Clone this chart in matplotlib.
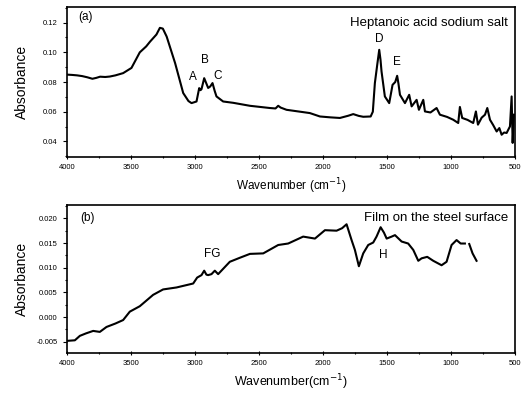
import numpy as np
import matplotlib
matplotlib.use("Agg")
import matplotlib.pyplot as plt
from matplotlib.ticker import MultipleLocator, FormatStrFormatter

plt.rcParams['font.family'] = ['Liberation Sans', 'DejaVu Sans']

# (a) Heptanoic acid sodium salt
wn_a = [4000, 3960, 3920, 3880, 3840, 3800, 3770, 3740, 3700, 3664, 3620, 3560, 3495,
        3430, 3380, 3350, 3300, 3273, 3250, 3220, 3154, 3091, 3050, 3026, 2987,
        2966, 2956, 2948, 2927, 2910, 2896, 2880, 2862, 2845, 2831, 2779, 2700,
        2570, 2414, 2370, 2349, 2330, 2284, 2102, 2023, 1940, 1867, 1802, 1763,
        1720, 1685, 1627, 1610, 1594, 1575, 1560, 1550, 1542, 1516, 1482, 1456,
        1435, 1420, 1410, 1398, 1359, 1326, 1307, 1268, 1250, 1216, 1203, 1160,
        1112, 1086, 1030, 982, 943, 930, 912, 870, 826, 805, 789, 760, 734, 716,
        695, 670, 643, 622, 604, 585, 565, 539, 526, 518, 508]
ab_a = [0.0850, 0.0848, 0.0845, 0.0840, 0.0832, 0.0822, 0.0828, 0.0836, 0.0834, 0.0837,
        0.0845, 0.0860, 0.0895, 0.1000, 0.1040, 0.1072, 0.1120, 0.1165, 0.1160, 0.1106,
        0.0927, 0.0726, 0.0672, 0.0658, 0.0669, 0.0759, 0.0745, 0.0752, 0.0826, 0.0790,
        0.0760, 0.0770, 0.0793, 0.0740, 0.0703, 0.0669, 0.0660, 0.0640, 0.0625, 0.0622,
        0.0640, 0.0628, 0.0613, 0.0591, 0.0568, 0.0562, 0.0558, 0.0573, 0.0584, 0.0572,
        0.0566, 0.0568, 0.0600, 0.0793, 0.0920, 0.1017, 0.0950, 0.0871, 0.0703, 0.0658,
        0.0781, 0.0800, 0.0842, 0.0790, 0.0714, 0.0658, 0.0714, 0.0636, 0.0680, 0.0613,
        0.0680, 0.0602, 0.0595, 0.0625, 0.0580, 0.0565, 0.0546, 0.0524, 0.0632, 0.0558,
        0.0545, 0.0524, 0.0602, 0.0513, 0.0560, 0.0580, 0.0625, 0.0546, 0.0510, 0.0467,
        0.0490, 0.0445, 0.0460, 0.0457, 0.0501, 0.0703, 0.0390, 0.0580]

# (b) Film on the steel surface (gap near 870 cm-1)
wn_b = [3990, 3937, 3898, 3850, 3794, 3742, 3690, 3620, 3560, 3508, 3430, 3326, 3248,
        3143, 3013, 2982, 2948, 2927, 2910, 2896, 2870, 2844, 2818, 2727, 2650, 2570,
        2466, 2349, 2271, 2154, 2062, 1984, 1893, 1850, 1815, 1776, 1750, 1719, 1685,
        1646, 1607, 1581, 1549, 1523, 1502, 1463, 1437, 1385, 1334, 1294, 1255, 1229,
        1185, 1138, 1073, 1034, 995, 956, 924, 891, 875, 857, 831, 800]
ab_b = [-0.0048, -0.0047, -0.0038, -0.0033, -0.0028, -0.0030, -0.0020, -0.0013, -0.0006,
        0.0011, 0.0022, 0.0045, 0.0056, 0.0060, 0.0068, 0.0080, 0.0085, 0.0094, 0.0086,
        0.0085, 0.0087, 0.0094, 0.0087, 0.0112, 0.0120, 0.0128, 0.0129, 0.0146, 0.0149,
        0.0163, 0.0159, 0.0176, 0.0175, 0.0180, 0.0188, 0.0156, 0.0136, 0.0103, 0.0129,
        0.0146, 0.0151, 0.0163, 0.0182, 0.0171, 0.0159, 0.0163, 0.0166, 0.0153, 0.0149,
        0.0136, 0.0114, 0.0119, 0.0122, 0.0114, 0.0105, 0.0112, 0.0146, 0.0156, 0.0149,
        0.0149, np.nan, 0.0148, 0.0129, 0.0114]

peaks_a = ['A', 'B', 'C', 'D', 'E']
peaks_a_x = [3016, 2922, 2820, 1562, 1422]
peaks_a_y = [0.0835, 0.0949, 0.0842, 0.109, 0.0935]
peaks_b = ['FG', 'H']
peaks_b_x = [2867, 1531]
peaks_b_y = [0.0128, 0.0126]

fig = plt.figure(figsize=(5.26, 3.95), dpi=100)
ax1 = fig.add_axes([0.127, 0.6025, 0.852, 0.380])
ax2 = fig.add_axes([0.127, 0.106, 0.852, 0.375])


def style(ax):
    ax.set_xlim(4000, 500)
    ax.xaxis.set_major_locator(MultipleLocator(500))
    ax.xaxis.set_minor_locator(MultipleLocator(250))
    ax.tick_params(which='both', direction='out', labelsize=5.5, width=0.8)
    ax.tick_params(which='major', length=3)
    ax.tick_params(which='minor', length=1.5)
    ax.tick_params(axis='x', which='both', direction='inout')
    for s in ax.spines.values():
        s.set_linewidth(1.2)
    ax.set_ylabel('Absorbance', fontsize=10)
    ax.yaxis.set_label_coords(-0.085, 0.5)


ax1.plot(wn_a, ab_a, color='black', lw=1.5)
style(ax1)
ax1.set_ylim(0.0295, 0.1306)
ax1.yaxis.set_major_locator(MultipleLocator(0.02))
ax1.yaxis.set_minor_locator(MultipleLocator(0.01))
ax1.yaxis.set_major_formatter(FormatStrFormatter('%.2f'))
ax1.set_xlabel('Wavenumber (cm$^{-1}$)', fontsize=8.5)
ax1.text(0.025, 0.93, '(a)', transform=ax1.transAxes, fontsize=8.5, va='center')
ax1.text(0.985, 0.89, 'Heptanoic acid sodium salt', transform=ax1.transAxes,
         fontsize=9.5, ha='right', va='center')
for lab, x, y in zip(peaks_a, peaks_a_x, peaks_a_y):
    ax1.text(x, y, lab, fontsize=8.5, ha='center', va='center')

ax2.plot(wn_b, ab_b, color='black', lw=1.5)
style(ax2)
ax2.set_ylim(-0.0073, 0.0227)
ax2.yaxis.set_major_locator(MultipleLocator(0.005))
ax2.yaxis.set_minor_locator(MultipleLocator(0.0025))
ax2.yaxis.set_major_formatter(FormatStrFormatter('%.3f'))
ax2.set_xlabel('Wavenumber(cm$^{-1}$)', fontsize=9)
ax2.text(0.03, 0.91, '(b)', transform=ax2.transAxes, fontsize=8.5, va='center')
ax2.text(0.985, 0.91, 'Film on the steel surface', transform=ax2.transAxes,
         fontsize=9.5, ha='right', va='center')
for lab, x, y in zip(peaks_b, peaks_b_x, peaks_b_y):
    ax2.text(x, y, lab, fontsize=8.5, ha='center', va='center')

fig.savefig('out.png', dpi=100)
